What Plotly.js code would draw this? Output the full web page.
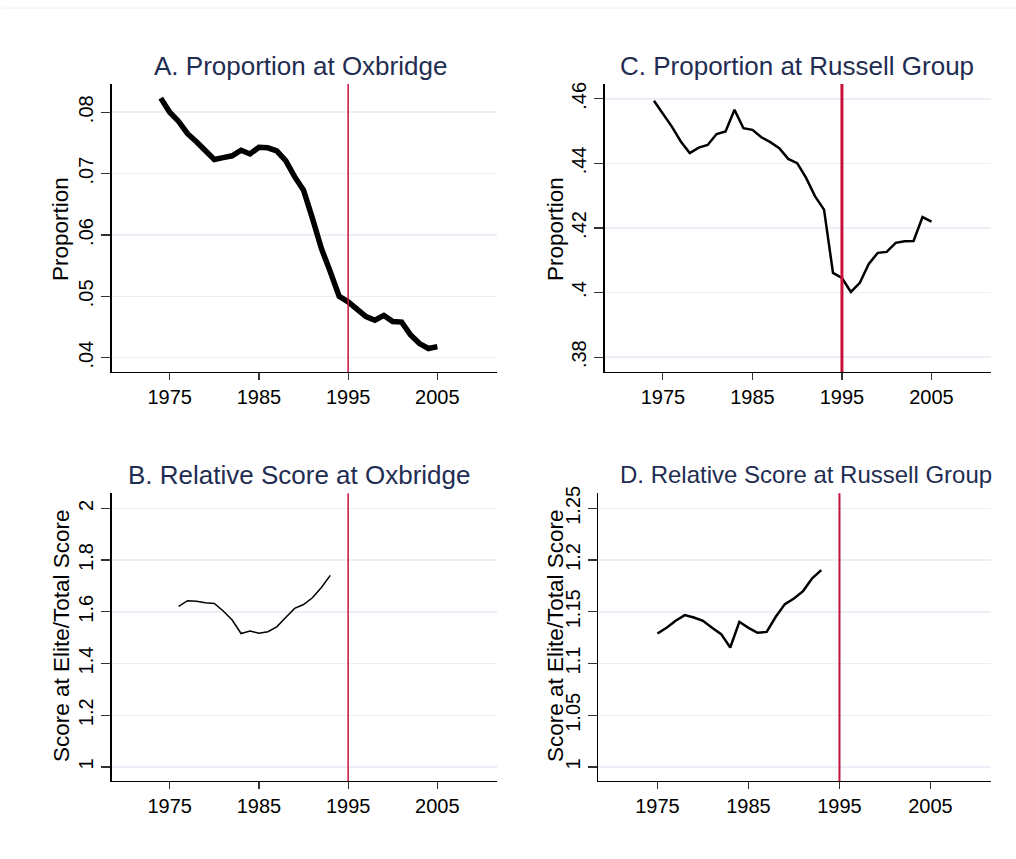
<!DOCTYPE html>
<html>
<head>
<meta charset="utf-8">
<script src="https://cdn.plot.ly/plotly-3.0.1.min.js"></script>
<style>html,body{margin:0;padding:0;background:#fff}#chart{width:1016px;height:859px}</style>
</head>
<body>
<div id="chart"></div>
<script>
// ---- data ----
const yearsProp = [1974,1975,1976,1977,1978,1979,1980,1981,1982,1983,1984,1985,1986,1987,1988,1989,1990,1991,1992,1993,1994,1995,1996,1997,1998,1999,2000,2001,2002,2003,2004,2005];
const oxbridgeProp = [0.0823,0.0800,0.0785,0.0765,0.0752,0.0738,0.0723,0.0726,0.0729,0.0738,0.0732,0.0743,0.0742,0.0737,0.0721,0.0695,0.0673,0.0627,0.0578,0.0540,0.0500,0.0491,0.0478,0.0467,0.0461,0.0469,0.0459,0.0458,0.0437,0.0423,0.0415,0.0418];
const russellProp = [0.4594,0.4554,0.4514,0.4468,0.4432,0.4449,0.4457,0.4491,0.4499,0.4566,0.4509,0.4504,0.4481,0.4466,0.4447,0.4414,0.4401,0.4355,0.4298,0.4257,0.4061,0.4045,0.4002,0.4030,0.4089,0.4123,0.4126,0.4154,0.4159,0.4160,0.4234,0.4220];
const yearsOxScore = [1976,1977,1978,1979,1980,1981,1982,1983,1984,1985,1986,1987,1988,1989,1990,1991,1992,1993];
const oxbridgeScore = [1.621,1.643,1.641,1.635,1.632,1.603,1.568,1.516,1.526,1.517,1.523,1.542,1.578,1.613,1.628,1.654,1.694,1.741];
const yearsRgScore = [1975,1976,1977,1978,1979,1980,1981,1982,1983,1984,1985,1986,1987,1988,1989,1990,1991,1992,1993];
const russellScore = [1.129,1.1345,1.1413,1.1468,1.1445,1.1413,1.1345,1.1284,1.1155,1.1403,1.1345,1.1297,1.1306,1.1452,1.1574,1.1629,1.170,1.1823,1.1903];

const xTicks = [1975,1985,1995,2005];
const xTickText = ['1975','1985','1995','2005'];
const cutoffYear = 1995;

const yTicksA = [0.04,0.05,0.06,0.07,0.08];
const yTextA = ['.04','.05','.06','.07','.08'];
const yTicksC = [0.38,0.40,0.42,0.44,0.46];
const yTextC = ['.38','.4','.42','.44','.46'];
const yTicksB = [1,1.2,1.4,1.6,1.8,2];
const yTextB = ['1','1.2','1.4','1.6','1.8','2'];
const yTicksD = [1,1.05,1.1,1.15,1.2,1.25];
const yTextD = ['1','1.05','1.1','1.15','1.2','1.25'];

const panelTitles = ['A. Proportion at Oxbridge','C. Proportion at Russell Group','B. Relative Score at Oxbridge','D. Relative Score at Russell Group'];
const yTitles = ['Proportion','Proportion','Score at Elite/Total Score','Score at Elite/Total Score'];

// ---- layout helpers ----
const W = 1016, H = 859;
const px = v => v / W;
const py = v => 1 - v / H;
const FONT = 'Liberation Sans, Arial, sans-serif';
const TITLE_COLOR = '#1f2d52';
const RED = '#c8103c';

function xAxis(domain){
  return {
    domain: domain, range: [1968.5, 2011.65],
    tickvals: xTicks, ticktext: xTickText,
    ticks: 'outside', ticklen: 7, tickwidth: 1.2, tickcolor: '#333',
    showline: true, linecolor: '#000', linewidth: 1.3,
    showgrid: false, zeroline: false,
    tickfont: {family: FONT, size: 20, color: '#000'},
    automargin: false, fixedrange: true
  };
}
function yAxis(domain, range, vals, text){
  return {
    domain: domain, range: range,
    tickvals: vals, ticktext: text, tickangle: -90,
    ticks: 'outside', ticklen: 9, tickwidth: 1.2, tickcolor: '#333',
    showline: true, linecolor: '#000', linewidth: 1.3,
    showgrid: true, gridcolor: '#e9eff4', gridwidth: 1.5,
    zeroline: false,
    tickfont: {family: FONT, size: 20, color: '#000'},
    automargin: false, fixedrange: true
  };
}

const domTop = [py(372), py(84)];
const domBot = [py(781), py(493.3)];

const traces = [
  {x: yearsProp, y: oxbridgeProp, xaxis: 'x', yaxis: 'y', mode: 'lines', line: {color: '#000', width: 5.5}, hoverinfo: 'skip'},
  {x: yearsProp, y: russellProp, xaxis: 'x2', yaxis: 'y2', mode: 'lines', line: {color: '#000', width: 2.5}, hoverinfo: 'skip'},
  {x: yearsOxScore, y: oxbridgeScore, xaxis: 'x3', yaxis: 'y3', mode: 'lines', line: {color: '#000', width: 1.5}, hoverinfo: 'skip'},
  {x: yearsRgScore, y: russellScore, xaxis: 'x4', yaxis: 'y4', mode: 'lines', line: {color: '#000', width: 2.5}, hoverinfo: 'skip'}
];

function vline(xr, yr, w){
  return {type: 'line', xref: xr, yref: yr + ' domain', x0: cutoffYear, x1: cutoffYear, y0: 0, y1: 1, line: {color: RED, width: w}, layer: 'above'};
}

const titlePos = [[300, 66], [797, 66], [299, 475], [806, 475]];
const titleSizes = [26, 26, 26, 24];
const yTitlePos = [[60, 229], [555, 229], [61, 636], [555, 636]];

const annotations = [];
panelTitles.forEach((t, i) => annotations.push({
  text: t, xref: 'paper', yref: 'paper', x: px(titlePos[i][0]), y: py(titlePos[i][1]),
  xanchor: 'center', yanchor: 'middle', showarrow: false,
  font: {family: FONT, size: titleSizes[i], color: TITLE_COLOR}
}));
yTitles.forEach((t, i) => annotations.push({
  text: t, xref: 'paper', yref: 'paper', x: px(yTitlePos[i][0]), y: py(yTitlePos[i][1]),
  xanchor: 'center', yanchor: 'middle', showarrow: false, textangle: -90,
  font: {family: FONT, size: 22.5, color: '#000'}
}));

const layout = {
  width: W, height: H,
  margin: {l: 0, r: 0, t: 0, b: 0},
  paper_bgcolor: '#fff', plot_bgcolor: '#fff',
  showlegend: false,
  font: {family: FONT},
  xaxis: xAxis([px(111.7), px(496.7)]),
  yaxis: yAxis(domTop, [0.03767, 0.0846], yTicksA, yTextA),
  xaxis2: Object.assign(xAxis([px(604.7), px(991)]), {anchor: 'y2'}),
  yaxis2: Object.assign(yAxis(domTop, [0.3754, 0.4646], yTicksC, yTextC), {anchor: 'x2'}),
  xaxis3: Object.assign(xAxis([px(111.7), px(496.7)]), {anchor: 'y3'}),
  yaxis3: Object.assign(yAxis(domBot, [0.946, 2.058], yTicksB, yTextB), {anchor: 'x3'}),
  xaxis4: Object.assign(xAxis([px(598.3), px(991)]), {anchor: 'y4'}),
  yaxis4: Object.assign(yAxis(domBot, [0.9865, 1.2645], yTicksD, yTextD), {anchor: 'x4'}),
  shapes: [
    vline('x', 'y', 1.5), vline('x2', 'y2', 3), vline('x3', 'y3', 1.5), vline('x4', 'y4', 2),
    {type: 'line', xref: 'paper', yref: 'paper', x0: px(3), x1: 1, y0: py(8), y1: py(8), line: {color: '#eeeeee', width: 1}}
  ],
  annotations: annotations
};
layout.xaxis.anchor = 'y';
layout.yaxis.anchor = 'x';

Plotly.newPlot('chart', traces, layout, {staticPlot: true, displayModeBar: false});
</script>
</body>
</html>
